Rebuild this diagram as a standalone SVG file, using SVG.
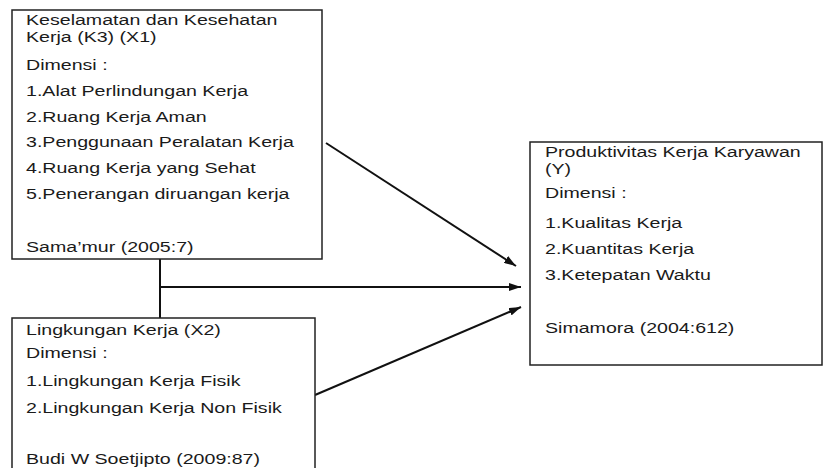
<svg xmlns="http://www.w3.org/2000/svg" width="825" height="468" viewBox="0 0 825 468">
<style>
.box{fill:#fff;stroke:#222;stroke-width:1.5}
.t{font-family:"Liberation Sans",Arial,sans-serif;font-size:14px;fill:#1a1a1a}
.ln{stroke:#111;stroke-width:2;fill:none}
</style>
<defs>
<marker id="ah" viewBox="0 0 12 8" refX="12" refY="4" markerWidth="12" markerHeight="8" markerUnits="userSpaceOnUse" orient="auto">
<path d="M0,0 L12,4 L0,8 Z" fill="#111"/>
</marker>
</defs>
<rect width="825" height="468" fill="#fff"/>
<g id="connectors">
<line class="ln" x1="160" y1="259" x2="160" y2="318"/>
<line class="ln" x1="160" y1="287" x2="521" y2="287" marker-end="url(#ah)"/>
<line class="ln" x1="326" y1="143" x2="516" y2="266" marker-end="url(#ah)"/>
<line class="ln" x1="315" y1="395" x2="521" y2="307" marker-end="url(#ah)"/>
</g>
<g id="node-x1">
<rect class="box" x="12" y="10" width="310" height="249"/>
<text class="t" transform="translate(26,25) scale(1.4,1)">Keselamatan dan Kesehatan</text>
<text class="t" transform="translate(26,42) scale(1.4,1)">Kerja (K3) (X1)</text>
<text class="t" transform="translate(26,70) scale(1.4,1)">Dimensi :</text>
<text class="t" transform="translate(26,96) scale(1.4,1)">1.Alat Perlindungan Kerja</text>
<text class="t" transform="translate(26,122) scale(1.4,1)">2.Ruang Kerja Aman</text>
<text class="t" transform="translate(26,147) scale(1.4,1)">3.Penggunaan Peralatan Kerja</text>
<text class="t" transform="translate(26,173) scale(1.4,1)">4.Ruang Kerja yang Sehat</text>
<text class="t" transform="translate(26,199) scale(1.4,1)">5.Penerangan diruangan kerja</text>
<text class="t" transform="translate(26,252) scale(1.4,1)">Sama’mur (2005:7)</text>
</g>
<g id="node-x2">
<rect class="box" x="12" y="318" width="303" height="170"/>
<text class="t" transform="translate(26,335) scale(1.4,1)">Lingkungan Kerja (X2)</text>
<text class="t" transform="translate(26,358) scale(1.4,1)">Dimensi :</text>
<text class="t" transform="translate(26,386) scale(1.4,1)">1.Lingkungan Kerja Fisik</text>
<text class="t" transform="translate(26,413) scale(1.4,1)">2.Lingkungan Kerja Non Fisik</text>
<text class="t" transform="translate(26,464) scale(1.4,1)">Budi W Soetjipto (2009:87)</text>
</g>
<g id="node-y">
<rect class="box" x="530" y="142" width="292" height="223"/>
<text class="t" transform="translate(545,157) scale(1.4,1)">Produktivitas Kerja Karyawan</text>
<text class="t" transform="translate(545,174) scale(1.4,1)">(Y)</text>
<text class="t" transform="translate(545,198) scale(1.4,1)">Dimensi :</text>
<text class="t" transform="translate(545,228) scale(1.4,1)">1.Kualitas Kerja</text>
<text class="t" transform="translate(545,254) scale(1.4,1)">2.Kuantitas Kerja</text>
<text class="t" transform="translate(545,280) scale(1.4,1)">3.Ketepatan Waktu</text>
<text class="t" transform="translate(545,333) scale(1.4,1)">Simamora (2004:612)</text>
</g>
</svg>
